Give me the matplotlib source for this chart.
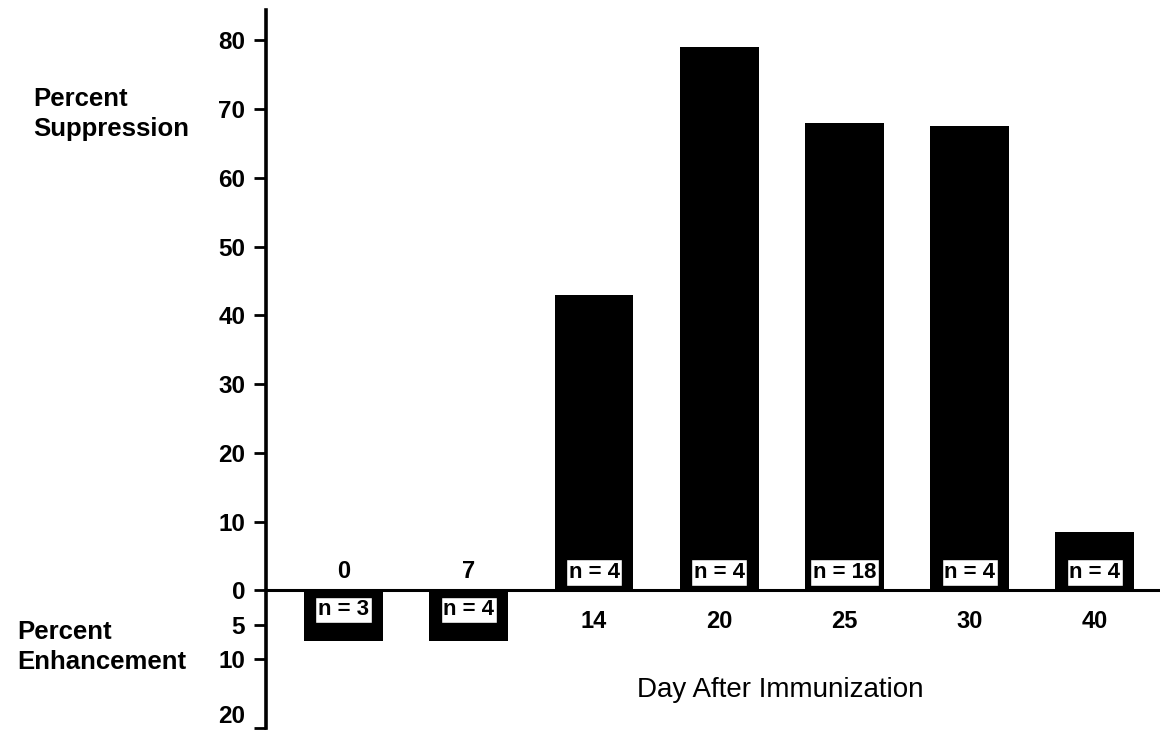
import numpy as np
import matplotlib.pyplot as plt

plt.rcParams['font.family'] = ['Liberation Sans', 'DejaVu Sans']

# values (negative = enhancement)
days = ['0', '7', '14', '20', '25', '30', '40']
percent = [-7.4, -7.4, 43, 79, 68, 67.5, 8.5]
n_mice = [3, 4, 4, 4, 18, 4, 4]

tick_vals = [80, 70, 60, 50, 40, 30, 20, 10, 0, -5, -10, -20]
tick_labels = ['80', '70', '60', '50', '40', '30', '20', '10', '0', '5', '10', '20']


def draw(days, percent, n_mice):
    fig = plt.figure(figsize=(11.6, 7.32), dpi=100)
    ax = fig.add_axes([266 / 1160, 4 / 732, 1 - 266 / 1160, 718 / 732])

    x = np.arange(len(days))
    ax.bar(x, percent, width=0.63, color='black')
    ax.axhline(0, color='black', lw=2.2)

    for i in range(len(days)):
        if percent[i] < 0:
            day_off, n_off = 14, -14
        else:
            day_off, n_off = -22, 13
        ax.annotate(days[i], (x[i], 0), xytext=(0, day_off),
                    textcoords='offset points', ha='center', va='center',
                    fontsize=17, fontweight='bold')
        ax.annotate('n = %d' % n_mice[i], (x[i], 0), xytext=(0, n_off),
                    textcoords='offset points', ha='center', va='center',
                    fontsize=16, fontweight='bold',
                    bbox=dict(boxstyle='square,pad=0.12', fc='white',
                              ec='black', lw=1))

    ax.set_xlim(-0.62, 6.52)
    ax.set_ylim(-20, 84.4)
    ax.set_yticks(tick_vals)
    ax.set_yticklabels(tick_labels, fontsize=17.5, fontweight='bold')
    ax.get_yticklabels()[-1].set_va('bottom')
    ax.set_xticks([])
    ax.tick_params(axis='y', length=9, width=2, pad=6)
    for s in ['top', 'right', 'bottom']:
        ax.spines[s].set_visible(False)
    ax.spines['left'].set_linewidth(2.6)

    fig.text(33 / 1160, 1 - 114 / 732, 'Percent\nSuppression', ha='left',
             va='center', fontsize=18.5, fontweight='bold', linespacing=1.3)
    fig.text(17 / 1160, 1 - 647 / 732, 'Percent\nEnhancement', ha='left',
             va='center', fontsize=18.5, fontweight='bold', linespacing=1.35)
    fig.text(780 / 1160, 1 - 690 / 732, 'Day After Immunization',
             ha='center', va='center', fontsize=20)

    fig.savefig('out.png', dpi=100)


draw(days, percent, n_mice)
